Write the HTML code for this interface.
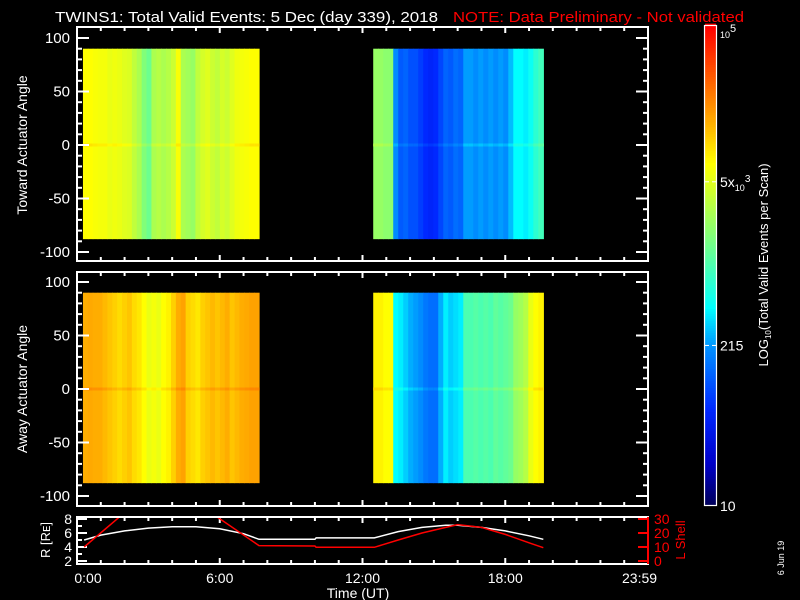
<!DOCTYPE html>
<html><head><meta charset="utf-8"><style>
html,body{margin:0;padding:0;background:#000;width:800px;height:600px;overflow:hidden}
svg text{font-family:"Liberation Sans",sans-serif;fill:#fff}
</style></head><body>
<svg id="chart" width="800" height="600" viewBox="0 0 800 600" xmlns="http://www.w3.org/2000/svg">
<rect width="800" height="600" fill="#000"/>
<text x="55" y="22" font-size="15" textLength="383" lengthAdjust="spacingAndGlyphs">TWINS1: Total Valid Events:  5 Dec (day 339), 2018</text>
<text x="453" y="22" font-size="15" style="fill:#ff0000" textLength="291" lengthAdjust="spacingAndGlyphs">NOTE: Data Preliminary - Not validated</text>
<g id="g"></g>
</svg>
<script>
// ---- data ----
const blockStartsH = [0.25, 12.45];
const blockEndsH = [7.65, 19.6];
const angleTop = 90, angleBottom = -88;
const towardBlock1 = [3.85,3.85,3.82,3.8,3.8,3.75,3.78,3.75,3.7,3.68,3.55,3.45,3.25,3.15,3.45,3.5,3.45,3.5,3.6,3.82,3.45,3.4,3.35,3.55,3.65,3.7,3.6,3.55,3.65,3.6,3.7,3.78,3.8,3.82,3.85,3.85];
const towardBlock2 = [3.35,3.35,3.3,3.3,2.3,2.05,2.1,2.0,2.0,1.9,1.8,1.75,1.8,1.95,2.1,2.05,2.15,2.1,2.35,2.35,2.3,2.35,2.3,2.35,2.3,2.35,2.3,2.45,2.65,2.65,2.6,2.7,2.85,2.95];
const awayBlock1 = [4.2,4.22,4.2,4.2,4.15,4.1,4.05,4.0,4.05,4.1,4.0,3.95,3.85,3.75,3.8,3.75,3.85,3.9,4.05,4.2,4.25,4.05,4.0,3.95,4.05,4.1,4.15,4.1,4.15,4.2,4.1,4.15,4.2,4.22,4.25,4.25];
const awayBlock2 = [3.9,3.9,3.85,3.85,2.65,2.6,2.5,2.4,2.35,2.3,2.2,2.15,2.15,2.4,2.6,2.5,2.55,2.6,3.0,3.0,3.05,3.0,3.05,3.0,3.1,3.05,3.1,3.15,3.35,3.4,3.5,3.75,3.85,3.9];
const orbitHours = [0.3,1,2,3,4,5,6,7,7.65,10,10.05,12.5,13.5,14.5,15.5,16,17,18,19,19.6];
const radiusRe = [5.0,5.7,6.3,6.7,6.9,6.9,6.6,5.9,5.1,5.1,5.3,5.3,6.2,6.8,7.1,7.1,6.8,6.3,5.6,5.1];
const lshellHours = [0.3,2.1,5.5,7.65,10,10.05,12.5,13.5,14.5,15.5,16,17,18,19,19.6];
const lshellValues = [10,36,36,11,10.7,9.8,9.8,15,20,24,26,24,19,13,9.5];
const timeTickLabels = ["0:00","6:00","12:00","18:00","23:59"];
const timeTickHours = [0,6,12,18,23.98];
const angleTicks = [100,50,0,-50,-100];
const radiusTicks = [2,4,6,8];
const lshellTicks = [0,10,20,30];
const cbarTickLogs = [1, 2.3324, 3.699, 5];

// ---- scales ----
const X0 = 77, X1 = 648;
const xs = h => X0 + (X1 - X0) * h / 24;
const yTop = a => 145 - a * 1.07;
const yBot = a => 389 - a * 1.07;
const yR = r => 561 - (r - 2) * 7;
const yL = l => 561 - l * 1.4;
const yCbar = v => 505 - (v - 1) * 119.75;
const stops = [[1,[0,0,90]],[1.35,[0,0,200]],[1.8,[0,40,255]],[2.3,[0,140,255]],[2.65,[0,255,255]],[3.3,[140,255,110]],[3.85,[255,255,0]],[4.3,[255,150,0]],[5,[255,0,0]]];
function cmap(v){
  if(v<=stops[0][0]) return 'rgb('+stops[0][1]+')';
  for(let i=1;i<stops.length;i++){
    if(v<=stops[i][0]){const a=stops[i-1],b=stops[i];const t=(v-a[0])/(b[0]-a[0]);
      return 'rgb('+a[1].map((c,k)=>Math.round(c+(b[1][k]-c)*t)).join(',')+')';}
  }
  return 'rgb(255,0,0)';
}
const NS='http://www.w3.org/2000/svg';
const G=document.getElementById('g');
function el(tag,attrs,parent){const e=document.createElementNS(NS,tag);for(const k in attrs)e.setAttribute(k,attrs[k]);(parent||G).appendChild(e);return e;}

function heat(vals,bi,ys,name){
  const t0=blockStartsH[bi],t1=blockEndsH[bi],n=vals.length;
  const g=el('g',{});
  
  
  vals.forEach((v,i)=>{
    const xa=xs(t0+(t1-t0)*i/n), xb=xs(t0+(t1-t0)*(i+1)/n);
    const r=el('rect',{x:xa,y:ys(angleTop),width:xb-xa+0.6,height:ys(angleBottom)-ys(angleTop),fill:cmap(v)},g);
    
    
    const z=el('rect',{x:xa,y:ys(0)-1.5,width:xb-xa+0.6,height:3,fill:cmap(v+0.12)},g);
    
    
  });
}
heat(towardBlock1,0,yTop,'toward-heatmap-block-1');
heat(towardBlock2,1,yTop,'toward-heatmap-block-2');
heat(awayBlock1,0,yBot,'away-heatmap-block-1');
heat(awayBlock2,1,yBot,'away-heatmap-block-2');

function panel(top,bot,ys,name,ylabel){
  const f=el('rect',{x:X0,y:top,width:X1-X0,height:bot-top,fill:'none',stroke:'#fff','stroke-width':2});
  
  
  for(let h=1;h<24;h++){const L=h%6===0?6:4;
    el('line',{x1:xs(h),x2:xs(h),y1:top,y2:top+L,stroke:'#fff','stroke-width':2});
    el('line',{x1:xs(h),x2:xs(h),y1:bot,y2:bot-L,stroke:'#fff','stroke-width':2});}
  if(ys){
    for(let a=-100;a<=100;a+=10){const L=a%50===0?12:5;
      el('line',{x1:X0,x2:X0+L,y1:ys(a),y2:ys(a),stroke:'#fff','stroke-width':2});
      el('line',{x1:X1,x2:X1-L,y1:ys(a),y2:ys(a),stroke:'#fff','stroke-width':2});}
    angleTicks.forEach(a=>{const t=el('text',{x:70,y:ys(a)+5,'font-size':15,'text-anchor':'end'});t.textContent=a;
      
      });
    const cy=(ys(100)+ys(-100))/2;
    const yl=el('text',{x:0,y:0,'font-size':14,'text-anchor':'middle',transform:'translate(27,'+cy+') rotate(-90)'});
    yl.textContent=ylabel;
    
    
  }
}
panel(27,261,yTop,'toward-panel','Toward Actuator Angle');
panel(272,506,yBot,'away-panel','Away Actuator Angle');
panel(517,564,null,'orbit-panel','');

// orbit panel axes
radiusTicks.forEach(r=>{el('line',{x1:X0,x2:X0+10,y1:yR(r),y2:yR(r),stroke:'#fff','stroke-width':2});
  const t=el('text',{x:72,y:yR(r)+5,'font-size':14,'text-anchor':'end'});t.textContent=r;
  
  });
for(let r=3;r<8;r+=2) el('line',{x1:X0,x2:X0+5,y1:yR(r),y2:yR(r),stroke:'#fff','stroke-width':2});
el('line',{x1:X1,x2:X1,y1:517,y2:564,stroke:'#f00','stroke-width':2});
lshellTicks.forEach(l=>{el('line',{x1:X1,x2:X1-10,y1:yL(l),y2:yL(l),stroke:'#f00','stroke-width':2});
  const t=el('text',{x:654,y:yL(l)+5,'font-size':14,style:'fill:#f00'});t.textContent=l;
  
  });
const rt=el('text',{x:0,y:0,'font-size':13,'text-anchor':'middle',transform:'translate(50,540) rotate(-90)'});rt.textContent='R [R\u1D07]';


const lt=el('text',{x:0,y:0,'font-size':13,'text-anchor':'middle',style:'fill:#f00',transform:'translate(685,540) rotate(-90)'});lt.textContent='L Shell';



const clip=el('clipPath',{id:'oc'});el('rect',{x:X0,y:518,width:X1-X0,height:46},clip);
const rp=el('polyline',{points:orbitHours.map((h,i)=>xs(h)+','+yR(radiusRe[i])).join(' '),fill:'none',stroke:'#fff','stroke-width':1.5,'clip-path':'url(#oc)'});


const lp=el('polyline',{points:lshellHours.map((h,i)=>xs(h)+','+yL(lshellValues[i])).join(' '),fill:'none',stroke:'#f00','stroke-width':1.5,'clip-path':'url(#oc)'});



timeTickLabels.forEach((s,i)=>{const t=el('text',{x:xs(timeTickHours[i])+(i===0?11:(i===4?-8:0)),y:583,'font-size':14,'text-anchor':'middle'});t.textContent=s;
  
  });
const xt=el('text',{x:358,y:598,'font-size':14,'text-anchor':'middle'});xt.textContent='Time (UT)';



// colorbar
const cb=el('g',{});


for(let v=1;v<5;v+=0.02){el('rect',{x:705,y:yCbar(v+0.02),width:11,height:yCbar(v)-yCbar(v+0.02)+0.5,fill:cmap(v+0.01)},cb);}
el('rect',{x:704.5,y:25.5,width:12,height:480,fill:'none',stroke:'#fff','stroke-width':1.2},cb);
[2.3324,3.699].forEach(v=>{el('line',{x1:705,x2:709,y1:yCbar(v),y2:yCbar(v),stroke:'#fff'},cb);el('line',{x1:712,x2:716,y1:yCbar(v),y2:yCbar(v),stroke:'#fff'},cb);});
function cbt(y,html){const t=el('text',{x:720,y:y,'font-size':14},cb);t.innerHTML=html;
  
  }
cbt(yCbar(cbarTickLogs[0])+6,'10');
cbt(yCbar(cbarTickLogs[1])+5,'215');
cbt(yCbar(cbarTickLogs[2])+5,'5x<tspan font-size="9" dy="4">10</tspan><tspan font-size="10" dy="-9">3</tspan>');
cbt(yCbar(cbarTickLogs[3])+12,'<tspan font-size="9">10</tspan><tspan font-size="11" dy="-6">5</tspan>');
const ct=el('text',{x:0,y:0,'font-size':13,'text-anchor':'middle',transform:'translate(768,265) rotate(-90)'});
ct.innerHTML='LOG<tspan font-size="8" dy="3">10</tspan><tspan dy="-3">(Total Valid Events per Scan)</tspan>';


const dt=el('text',{x:0,y:0,'font-size':9,'text-anchor':'middle',transform:'translate(784,558) rotate(-90)'});dt.textContent='6 Jun 19';


</script>
</body></html>
